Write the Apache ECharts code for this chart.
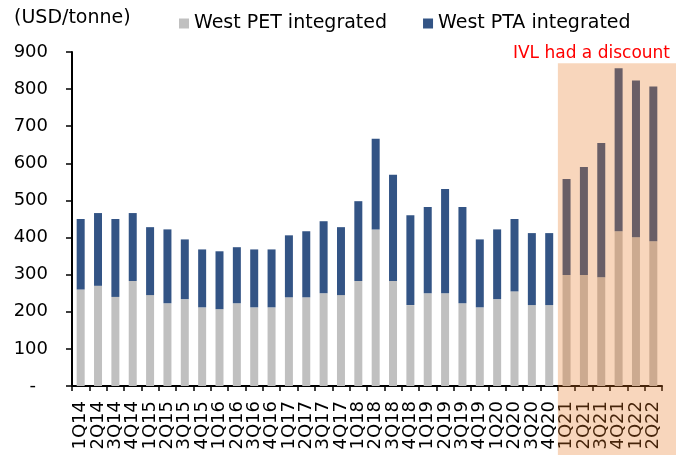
<!DOCTYPE html>
<html>
<head>
<meta charset="utf-8">
<script src="https://cdn.jsdelivr.net/npm/echarts@6/dist/echarts.min.js"></script>
<style>
  html, body { margin: 0; padding: 0; background: #ffffff; }
  #chart { width: 683px; height: 455px; }
</style>
</head>
<body>
<div id="chart"></div>
<script>
// Quarterly integrated margins, USD/tonne
const quarters = [
  '1Q14','2Q14','3Q14','4Q14','1Q15','2Q15','3Q15','4Q15',
  '1Q16','2Q16','3Q16','4Q16','1Q17','2Q17','3Q17','4Q17',
  '1Q18','2Q18','3Q18','4Q18','1Q19','2Q19','3Q19','4Q19',
  '1Q20','2Q20','3Q20','4Q20','1Q21','2Q21','3Q21','4Q21',
  '1Q22','2Q22'
];
const westPET = [
  260, 270, 240, 283, 245, 223, 234, 212,
  207, 223, 212, 212, 239, 239, 250, 245,
  283, 422, 283, 218, 250, 250, 223, 212,
  234, 255, 218, 218, 299, 299, 293, 417,
  401, 390
];
const westPTA = [
  190, 196, 210, 183, 183, 199, 161, 156,
  156, 151, 156, 156, 167, 178, 194, 183,
  215, 244, 286, 242, 232, 281, 259, 183,
  188, 195, 194, 194, 259, 291, 362, 439,
  422, 417
];
const yTicks = { min: 0, max: 900, interval: 100 };
const discountFrom = '1Q21';
const discountNote = 'IVL had a discount';

const FONT = '"DejaVu Sans", Verdana, sans-serif';
const chart = echarts.init(document.getElementById('chart'));

chart.setOption({
  animation: false,
  textStyle: { fontFamily: FONT },
  title: {
    text: '(USD/tonne)',
    left: 9, top: 4,
    textStyle: { fontFamily: FONT, fontSize: 19, fontWeight: 'normal', color: '#000' }
  },
  legend: {
    left: 174, top: 9,
    icon: 'rect', itemWidth: 10, itemHeight: 10, itemGap: 36, itemTextGap: 6,
    textStyle: { fontFamily: FONT, fontSize: 19, color: '#000' },
    data: ['West PET integrated', 'West PTA integrated']
  },
  grid: { left: 72, right: 21, top: 52, bottom: 69, containLabel: false },
  xAxis: {
    type: 'category',
    data: quarters,
    axisLine: { lineStyle: { color: '#000', width: 2 } },
    axisTick: { show: true, length: 5, interval: 0, lineStyle: { color: '#000', width: 1.5 } },
    axisLabel: { interval: 0, rotate: 90, margin: 15, fontSize: 18, color: '#000', fontFamily: FONT }
  },
  yAxis: {
    type: 'value',
    min: yTicks.min, max: yTicks.max, interval: yTicks.interval,
    axisLine: { show: true, lineStyle: { color: '#000', width: 2 } },
    axisTick: { show: true, length: 6, lineStyle: { color: '#000', width: 1.5 } },
    splitLine: { show: false },
    axisLabel: {
      margin: 24, fontSize: 18, color: '#000', fontFamily: FONT,
      formatter: v => v === 0 ? '{dash|-}' : String(v),
      rich: { dash: { fontSize: 18, fontFamily: FONT, color: '#000', padding: [0, 12, 0, 0] } }
    }
  },
  series: [
    {
      name: 'West PET integrated', type: 'bar', stack: 'total',
      barWidth: 8, data: westPET,
      itemStyle: { color: '#C0C0C0' }
    },
    {
      name: 'West PTA integrated', type: 'bar', stack: 'total',
      barWidth: 8, data: westPTA,
      itemStyle: { color: '#335485' }
    }
  ]
});

// Translucent band over the discount period, placed from the axis scales
function drawBand() {
  const i = quarters.indexOf(discountFrom);
  const c0 = chart.convertToPixel({ xAxisIndex: 0 }, quarters[i]);
  const c1 = chart.convertToPixel({ xAxisIndex: 0 }, quarters[i + 1]);
  const band = c1 - c0;
  const left = c0 - band / 2;
  const top = chart.convertToPixel({ yAxisIndex: 0 }, 870);
  const right = chart.getWidth() - 7;
  const bottom = chart.getHeight();
  chart.setOption({
    graphic: [
      {
        type: 'rect', z: 100, silent: true,
        shape: { x: left, y: top, width: right - left, height: bottom - top },
        style: { fill: 'rgba(232,118,32,0.3)' }
      },
      {
        type: 'text', z: 101, silent: true,
        x: right - 6, y: top - 10,
        style: {
          text: discountNote, fill: '#FF0000',
          font: '17px ' + FONT, align: 'right', verticalAlign: 'middle'
        }
      }
    ]
  });
}
drawBand();
</script>
</body>
</html>
